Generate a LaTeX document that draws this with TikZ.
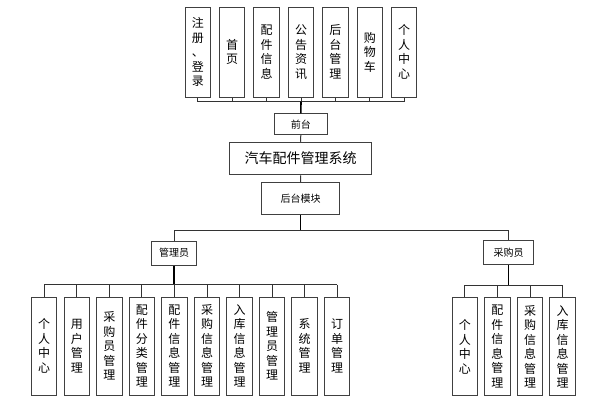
\documentclass[tikz,border=0pt]{standalone}
\usepackage{fontspec}
\setmainfont{Noto Sans CJK SC}
\begin{document}
\begin{tikzpicture}[x=1pt,y=-1pt,
  box/.style={draw=black!75,line width=1pt,fill=white,inner sep=0pt,align=center},
  vbox/.style={box,minimum width=25.5pt,text width=13pt,font=\fontsize{12}{14.5}\selectfont},
  topbox/.style={vbox,minimum height=90pt},
  leaf/.style={vbox,minimum height=98pt},
  small/.style={box,font=\fontsize{10}{12}\selectfont},
  conn/.style={draw=black!80,line width=1pt},
  stem/.style={draw=black,line width=1.6pt}]
\useasboundingbox (0,0) rectangle (611,407);
% top row
\foreach \t [count=\i] in {注\\册\\、\\登\\录,首\\页,配\\件\\信\\息,公\\告\\资\\讯,后\\台\\管\\理,购\\物\\车,个\\人\\中\\心}{
  \node[topbox] (t\i) at ({197.8+34.4*(\i-1)},52) {\t};
}
\node[small,minimum width=53pt,minimum height=20.7pt] (qt) at (300.8,124.3) {前台};
\node[box,minimum width=142.4pt,minimum height=32.7pt,font=\fontsize{14}{16}\selectfont] (sys) at (300.5,158.6) {汽车配件管理系统};
\node[small,minimum width=78.7pt,minimum height=32.3pt] (ht) at (300.6,198.8) {后台模块};
\node[small,minimum width=45pt,minimum height=24pt] (gly) at (174.2,253) {管理员};
\node[small,minimum width=50.4pt,minimum height=24.3pt] (cgy) at (508.5,252.8) {采购员};
% admin leaves
\foreach \t [count=\i] in {个\\人\\中\\心,用\\户\\管\\理,采\\购\\员\\管\\理,配\\件\\分\\类\\管\\理,配\\件\\信\\息\\管\\理,采\\购\\信\\息\\管\\理,入\\库\\信\\息\\管\\理,管\\理\\员\\管\\理,系\\统\\管\\理,订\\单\\管\\理}{
  \node[leaf] (a\i) at ({44.2+32.56*(\i-1)},346) {\t};
}
% buyer leaves
\foreach \t [count=\i] in {个\\人\\中\\心,配\\件\\信\\息\\管\\理,采\\购\\信\\息\\管\\理,入\\库\\信\\息\\管\\理}{
  \node[leaf] (b\i) at ({464.8+32.6*(\i-1)},346.7) {\t};
}
% coordinates for buses
\coordinate (busT) at (300.8,101.7);
\coordinate (busM) at (300.6,230);
\coordinate (busA) at (174.2,284.5);
\coordinate (busB) at (508.5,285);
% top connectors
\foreach \i in {1,...,7}{\draw[conn] (t\i.south) -- (t\i.south |- busT);}
\draw[conn] (t1.south |- busT) -- (t7.south |- busT);
\draw[stem] (t4.south |- busT) -- (qt.north);
\draw[conn] (qt.south) -- (sys.north);
\draw[conn] (sys.south) -- (ht.north);
% middle
\draw[stem] (ht.south) -- (busM);
\draw[conn] (gly.north |- busM) -- (cgy.north |- busM);
\draw[conn] (gly.north |- busM) -- (gly.north);
\draw[conn] (cgy.north |- busM) -- (cgy.north);
% admin
\draw[stem] (gly.south) -- (busA);
\draw[conn] (a1.north |- busA) -- (a10.north |- busA);
\foreach \i in {1,...,10}{\draw[conn] (a\i.north |- busA) -- (a\i.north);}
% buyer
\draw[stem] (cgy.south) -- (busB);
\draw[conn] (b1.north |- busB) -- (b4.north |- busB);
\foreach \i in {1,...,4}{\draw[conn] (b\i.north |- busB) -- (b\i.north);}
\end{tikzpicture}
\end{document}
